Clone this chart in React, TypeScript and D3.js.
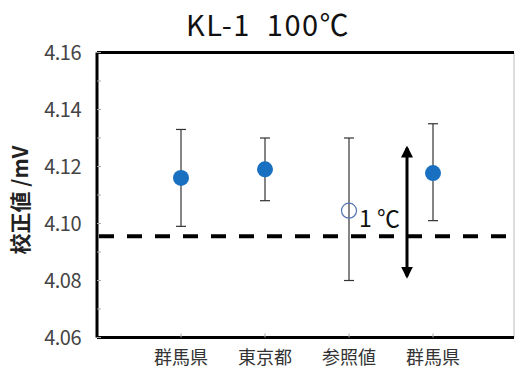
import React from 'react';
import * as d3 from 'd3';

// categories and values (mV)
const categories = ['群馬県', '東京都', '参照値', '群馬県'];
const values = [4.116, 4.119, 4.1045, 4.1177];
const errLow = [4.099, 4.108, 4.080, 4.101];
const errHigh = [4.133, 4.130, 4.130, 4.135];
const hollow = [false, false, true, false];
const yTicks = [4.06, 4.08, 4.10, 4.12, 4.14, 4.16];
const minorTicks = d3.range(4.06, 4.1601, 0.01);
const refLine = 4.0955;
const arrowSpan = [4.0815, 4.1265];

const W = 516;
const H = 370;
const left = 97;
const right = 514;
const top = 52.5;
const bottom = 337.5;

export default function App() {
  const y = d3.scaleLinear().domain([4.06, 4.16]).range([bottom, top]);
  const x = d3.scalePoint<number>()
    .domain(categories.map((_, i) => i))
    .range([left, left + 420])
    .padding(1);

  const font = '"Noto Sans CJK JP", "Noto Sans", sans-serif';

  return (
    <svg width={W} height={H} style={{ position: 'absolute', left: 0, top: 0 }}>
      <defs>
        <marker id="ah" viewBox="0 0 10 10" refX="8" refY="5" markerWidth="4" markerHeight="4.5" orient="auto-start-reverse">
          <path d="M0,0 L10,5 L0,10 z" fill="#000" />
        </marker>
      </defs>
      <rect width={W} height={H} fill="#fff" />

      {/* title */}
      <text x={268} y={36} textAnchor="middle" fontFamily={font} fontSize={29} fill="#111" letterSpacing={1.5}>
        {'KL-1\u00A0\u00A0100℃'}
      </text>

      {/* frame */}
      <line x1={right} x2={right} y1={top} y2={bottom} stroke="#bbb" strokeWidth={1} />
      <line x1={left} x2={right} y1={top} y2={top} stroke="#000" strokeWidth={3} />
      <line x1={left} x2={right} y1={bottom} y2={bottom} stroke="#000" strokeWidth={3} />
      <line x1={left} x2={left} y1={top} y2={bottom} stroke="#000" strokeWidth={3} />

      {/* minor ticks */}
      {minorTicks.map((t, i) => (
        <line key={'m' + i} x1={left} x2={left + 4} y1={y(t)} y2={y(t)} stroke="#aaa" strokeWidth={1} />
      ))}
      {categories.map((_, i) => (
        <line key={'xt' + i} x1={x(i)!} x2={x(i)!} y1={bottom} y2={bottom - 4} stroke="#aaa" strokeWidth={1} />
      ))}

      {/* y tick labels */}
      {yTicks.map(t => (
        <text key={t} x={81} y={y(t) + 7} textAnchor="end" fontFamily={font} fontSize={20} fill="#444" letterSpacing={-0.5}>
          {t.toFixed(2)}
        </text>
      ))}

      {/* y axis title */}
      <text transform={`translate(28,200) rotate(-90)`} textAnchor="middle" fontFamily={font} fontSize={21} fontWeight="bold" fill="#222">
        {'校正値\u00A0/mV'}
      </text>

      {/* category labels */}
      {categories.map((c, i) => (
        <text key={'c' + i} x={x(i)!} y={364} textAnchor="middle" fontFamily={font} fontSize={18} fill="#333">{c}</text>
      ))}

      {/* reference dashed line */}
      <line x1={left + 2} x2={right - 4} y1={y(refLine)} y2={y(refLine)} stroke="#000" strokeWidth={4} strokeDasharray="15 13" />

      {/* error bars */}
      {categories.map((_, i) => {
        const cx = x(i)!;
        return (
          <g key={'e' + i} stroke="#333" strokeWidth={1.2}>
            <line x1={cx} x2={cx} y1={y(errLow[i])} y2={y(errHigh[i])} />
            <line x1={cx - 5} x2={cx + 5} y1={y(errLow[i])} y2={y(errLow[i])} />
            <line x1={cx - 5} x2={cx + 5} y1={y(errHigh[i])} y2={y(errHigh[i])} />
          </g>
        );
      })}

      {/* points */}
      {values.map((v, i) => (
        hollow[i]
          ? <circle key={'p' + i} cx={x(i)!} cy={y(v)} r={7.5} fill="none" stroke="#5575b5" strokeWidth={1.2} />
          : <circle key={'p' + i} cx={x(i)!} cy={y(v)} r={8} fill="#1a70c0" />
      ))}

      {/* 1 ℃ arrow */}
      <line x1={407} x2={407} y1={y(arrowSpan[0])} y2={y(arrowSpan[1])} stroke="#000" strokeWidth={3}
        markerStart="url(#ah)" markerEnd="url(#ah)" />
      <text x={359} y={227} fontFamily={font} fontSize={23} fill="#111">{'1\u00A0℃'}</text>
    </svg>
  );
}
